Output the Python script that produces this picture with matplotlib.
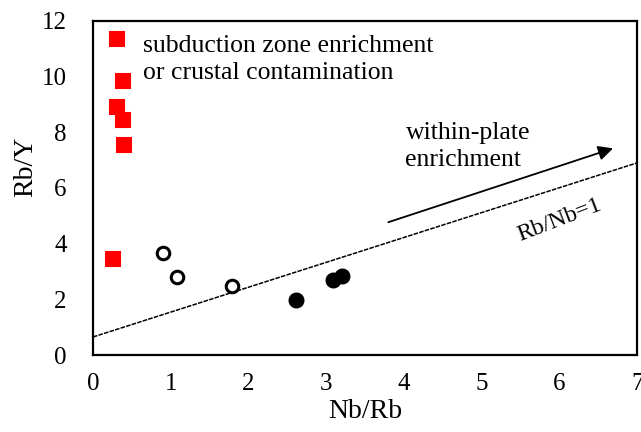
import matplotlib
matplotlib.use("Agg")
import matplotlib.pyplot as plt

plt.rcParams["font.family"] = ["Liberation Serif", "DejaVu Serif"]

# red squares: subduction / crustal samples
sq_x = [0.31, 0.39, 0.31, 0.39, 0.40, 0.26]
sq_y = [11.36, 9.82, 8.89, 8.42, 7.53, 3.44]

# open circles
open_x = [0.90, 1.08, 1.79]
open_y = [3.66, 2.80, 2.47]

# filled circles
fill_x = [2.61, 3.09, 3.20]
fill_y = [1.97, 2.69, 2.83]

# Rb/Nb=1 reference line
ref_x = [0, 7]
ref_y = [0.65, 6.9]

# within-plate enrichment arrow (tail, head)
arrow_tail = (3.80, 4.77)
arrow_head = (6.69, 7.42)

fig = plt.figure(figsize=(6.41, 4.32), dpi=100)
ax = fig.add_axes([0.145, 0.178, 0.849, 0.774])

ax.plot(ref_x, ref_y, color="black", lw=1.1, dashes=(3, 0.8), zorder=1)

ax.plot(sq_x, sq_y, ls="none", marker="s", ms=10, color="#ff0000",
        mec="#ff0000", mew=1.5, zorder=3)
ax.plot(open_x, open_y, ls="none", marker="o", ms=9, mfc="white",
        mec="black", mew=2.2, zorder=3)
ax.plot(fill_x, fill_y, ls="none", marker="o", ms=10.5, color="black", zorder=3)

ax.annotate("", xy=arrow_head, xytext=arrow_tail,
            arrowprops=dict(arrowstyle="-|>", color="black", lw=1.3,
                            mutation_scale=22, shrinkA=0, shrinkB=0))

ax.text(0.64, 10.6, "subduction zone enrichment\nor crustal contamination",
        fontsize=18.5, va="center", ha="left", linespacing=1.3)
ax.text(4.02, 7.49, "within-plate\nenrichment", fontsize=18.5,
        va="center", ha="left", linespacing=1.3)
ax.text(6.0, 4.85, "Rb/Nb=1", fontsize=17, rotation=21,
        ha="center", va="center", rotation_mode="anchor")

ax.set_xlim(0, 7)
ax.set_ylim(0, 12)
ax.set_xticks(range(0, 8))
ax.set_yticks(range(0, 13, 2))
ax.tick_params(length=0, labelsize=18)
ax.tick_params(axis="y", pad=19)
ax.tick_params(axis="x", pad=13)
ax.set_xlabel("Nb/Rb", fontsize=20, labelpad=3)
ax.set_ylabel("Rb/Y", fontsize=20)
ax.yaxis.set_label_coords(-0.10, 0.564)

for s in ax.spines.values():
    s.set_linewidth(1.6)

fig.savefig("out.png", dpi=100)
